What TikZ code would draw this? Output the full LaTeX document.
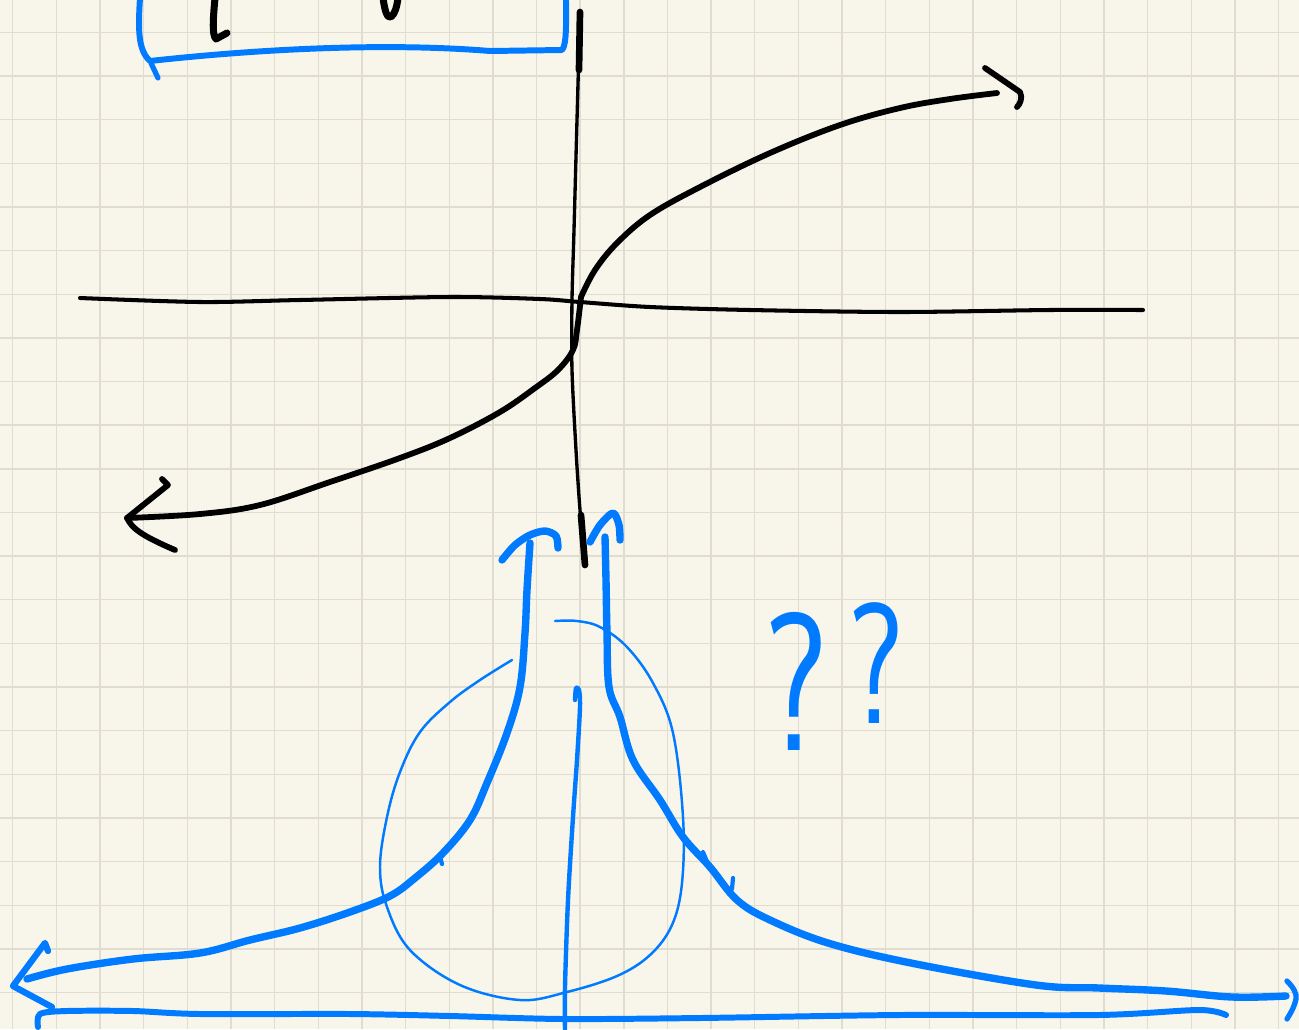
\documentclass[tikz,border=0pt]{standalone}
\usepackage{tikz}
\usetikzlibrary{calc,positioning}

\definecolor{paper}{RGB}{248,246,235}
\definecolor{gridc}{RGB}{224,221,208}
\definecolor{penblue}{RGB}{0,122,255}

\begin{document}
\begin{tikzpicture}[
  x=0.02cm, y=-0.02cm,
  gridline/.style={draw=gridc, line width=0.8pt},
  ink/.style={draw=black, line width=3.3pt, line cap=round, line join=round},
  axis/.style={draw=black, line width=2.3pt, line cap=round},
  blue/.style={draw=penblue, line width=4.2pt, line cap=round, line join=round},
  thinblue/.style={draw=penblue, line width=1.4pt, line cap=round},
  qmark/.style={text=penblue, inner sep=0pt, anchor=base, font=\sffamily\fontsize{#1}{#1}\selectfont, xscale=0.75},
]
%% ── Paper and grid ──────────────────────────────────────────────────────
\useasboundingbox (0,0) rectangle (1299,1029);
\fill[paper] (0,0) rectangle (1299,1029);
\foreach \i in {0,...,29}
  \draw[gridline] ({12.7+43.65*\i},0) -- ({12.7+43.65*\i},1029);
\foreach \j in {0,...,22}
  \draw[gridline] (0,{32.3+43.65*\j}) -- (1299,{32.3+43.65*\j});

%% ── Top bracket (cut off) ───────────────────────────────────────────────
\draw[blue, line width=3.4pt] (140,-2) .. controls (138,30) and (138,50) .. (150,61)
  .. controls (250,50) and (380,42) .. (490,51) -- (562,50)
  .. controls (567,45) and (566,20) .. (566,-2);
\draw[blue, line width=3pt] (151,63) -- (158,78);
\draw[ink, line width=4pt] (215,-2) .. controls (213,20) and (212,35) .. (216,39) -- (227,33);
\draw[ink, line width=4pt] (383,-2) .. controls (385,12) and (387,18) .. (391,17)
  .. controls (395,14) and (397,6) .. (398,-2);

%% ── Black axes ──────────────────────────────────────────────────────────
\draw[axis, line width=1.9pt] plot[smooth] coordinates {(580,12) (577,120) (574,230) (572,300) (572,370) (576,450) (580,510) (585,565)};
\draw[axis, line width=3.8pt] (580,12) -- (579,70);
\draw[axis, line width=3.8pt] (581,515) -- (585,565);
\draw[axis] plot[smooth] coordinates {(80,298) (200,302) (300,300) (450,297) (540,299) (580,302) (650,307) (750,310) (900,312) (1050,310) (1143,310)};

%% ── Black curve ─────────────────────────────────────────────────────────
\draw[ink] plot[smooth, tension=0.6] coordinates {(997,93) (950,99) (900,108) (840,125) (770,153) (700,187) (650,215) (617,243) (595,270) (581,297)};
\draw[ink] plot[smooth, tension=0.6] coordinates {(581,297) (577,330) (573,350) (558,370) (535,388) (500,412) (450,438) (400,458) (330,482) (260,505) (200,514) (127,518)};
\draw[ink] (985,68) -- (1020,92) .. controls (1023,98) and (1020,104) .. (1017,107);
\draw[ink] (162,479) -- (168,485) -- (127,518) .. controls (132,528) and (140,535) .. (175,550);

%% ── Blue curve ──────────────────────────────────────────────────────────
\draw[blue] plot[smooth, tension=0.6] coordinates {(27,979) (67,969) (133,959) (200,953) (250,940) (300,928) (350,912) (390,896) (415,878) (443,853) (470,820) (487,783) (507,733) (520,687) (525,633) (527,590) (530,543)};
\draw[blue] plot[smooth] coordinates {(502,560) (515,545) (530,535) (545,531) (556,536) (558,548)};
\draw[blue] plot[smooth, tension=0.6] coordinates {(605,537) (606,580) (607,633) (609,687) (620,717) (633,760) (660,800) (683,837) (710,867) (737,900) (770,920) (828,943) (911,963) (1036,985) (1099,988) (1166,991) (1232,997) (1286,996)};
\draw[blue] plot[smooth] coordinates {(590,542) (600,525) (613,513) (619,525) (620,540)};
\draw[blue, line width=3pt] (1287,981) .. controls (1294,988) and (1297,994) .. (1296,999) .. controls (1294,1008) and (1290,1014) .. (1287,1019);
\draw[blue, line width=3.6pt] (48,951) -- (45,943) -- (13,986) -- (52,1007);
\draw[blue, line width=2.4pt] (440,857) -- (442,864);
\draw[blue, line width=2.4pt] (703,852) -- (708,864);
\draw[blue, line width=2.4pt] (733,878) -- (732,889);

%% ── Blue axis ───────────────────────────────────────────────────────────
\draw[blue, line width=3.4pt] plot[smooth] coordinates {(38,1027) (40,1014) (67,1011) (133,1011) (200,1014) (350,1014) (450,1016) (563,1019) (700,1018) (900,1015) (1099,1015) (1199,1010) (1226,1015)};
\draw[blue, line width=2.5pt] plot[smooth] coordinates {(575,700) (576,688) (579,690) (580,707) (577,760) (573,817) (568,900) (565,987) (565,1030)};

%% ── Thin loop ───────────────────────────────────────────────────────────
\draw[thinblue] plot[smooth, tension=0.6] coordinates {(512,660) (480,680) (450,702) (420,732) (400,772) (387,817) (380,867) (387,907) (410,950) (460,985) (520,1000) (567,992) (617,976) (650,955) (672,925) (682,883) (683,817) (673,733) (653,683) (627,647) (600,627) (577,621) (555,621)};

%% ── Question marks ───────────────────────────────────────────────────────
\node[qmark=112] (q1) at (796,750) {?};
\node[qmark=98]  (q2) at (876,723) {?};
\end{tikzpicture}
\end{document}
